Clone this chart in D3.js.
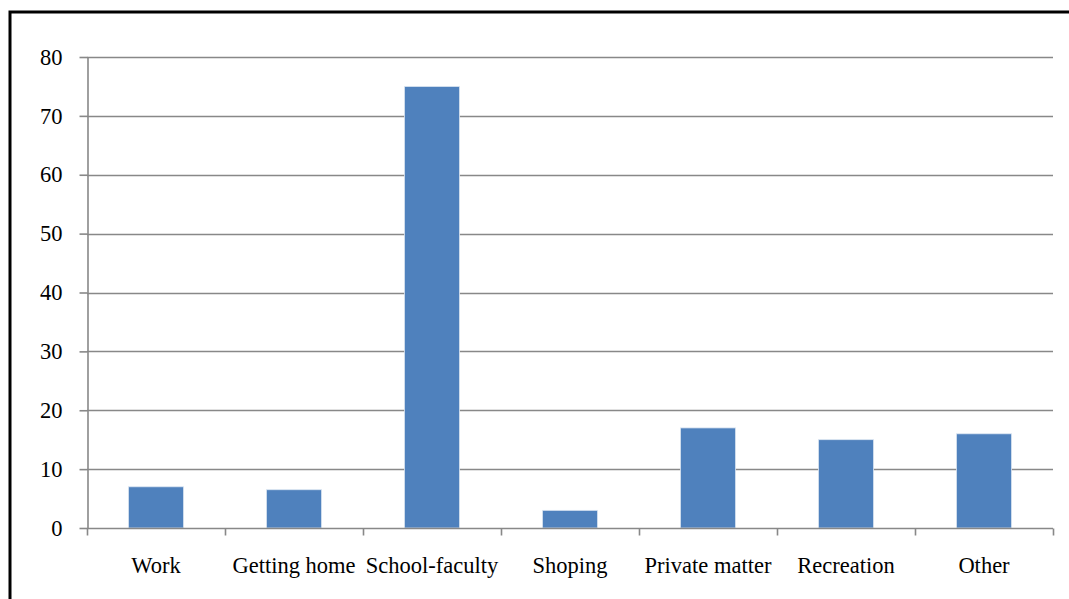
<!DOCTYPE html>
<html>
<head>
<meta charset="utf-8">
<script src="https://cdn.jsdelivr.net/npm/d3@7"></script>
<style>
  html, body { margin: 0; padding: 0; background: #fff; }
  svg { display: block; }
  text { font-family: "Liberation Serif", "Times New Roman", serif; fill: #000; }
</style>
</head>
<body>
<svg id="chart" width="1069" height="599"></svg>
<script>
// Trip purposes and their shares
const categories = ["Work", "Getting home", "School-faculty", "Shoping", "Private matter", "Recreation", "Other"];
const values = [7, 6.5, 75, 3, 17, 15, 16];
const yTicks = [0, 10, 20, 30, 40, 50, 60, 70, 80];

const W = 1069, H = 599;
const margin = { left: 87, right: 16, top: 57, bottom: 71 };
const fontSize = 22.5;
const svg = d3.select("#chart");

// Outer frame
svg.append("rect")
  .attr("x", 10).attr("y", 12)
  .attr("width", W + 20).attr("height", H + 20)
  .attr("fill", "none").attr("stroke", "#000").attr("stroke-width", 3);

const x = d3.scaleBand()
  .domain(categories)
  .range([margin.left, W - margin.right])
  .paddingInner(0.6).paddingOuter(0.3);

const xOuter = d3.scaleBand()
  .domain(categories)
  .range([margin.left, W - margin.right]);

const y = d3.scaleLinear()
  .domain([0, 80])
  .range([H - margin.bottom, margin.top]);

const gridColor = "#888";

// Horizontal gridlines
svg.append("g")
  .selectAll("line")
  .data(yTicks.filter(d => d > 0))
  .join("line")
  .attr("x1", margin.left).attr("x2", W - margin.right)
  .attr("y1", d => Math.round(y(d)) + 0.5).attr("y2", d => Math.round(y(d)) + 0.5)
  .attr("stroke", gridColor).attr("stroke-width", 1.6);

// Bars
svg.append("g")
  .selectAll("rect")
  .data(values)
  .join("rect")
  .attr("x", (d, i) => x(categories[i]))
  .attr("width", x.bandwidth())
  .attr("y", d => y(d))
  .attr("height", d => y(0) - y(d))
  .attr("fill", "#4f81bd")
  .attr("stroke", "#dce6f2").attr("stroke-width", 0.8);

// Y axis
const yAxis = svg.append("g")
  .attr("transform", `translate(${margin.left + 0.5},0)`)
  .call(d3.axisLeft(y).tickValues(yTicks).tickSize(8).tickPadding(17).tickSizeOuter(0));
yAxis.select(".domain").attr("stroke", gridColor).attr("stroke-width", 1.6);
yAxis.selectAll(".tick line").attr("stroke", gridColor).attr("stroke-width", 1.6);
yAxis.selectAll(".tick text")
  .attr("font-size", fontSize)
  .attr("font-family", "Liberation Serif, Times New Roman, serif")
  .attr("fill", "#000");

// X axis with category boundary ticks
const xAxisG = svg.append("g")
  .attr("transform", `translate(0,${Math.round(y(0)) + 0.5})`);
xAxisG.append("line")
  .attr("x1", margin.left).attr("x2", W - margin.right)
  .attr("stroke", gridColor).attr("stroke-width", 1.6);
const boundaries = categories.map(c => xOuter(c)).concat([W - margin.right]);
xAxisG.selectAll("line.tick")
  .data(boundaries)
  .join("line")
  .attr("class", "tick")
  .attr("x1", d => Math.round(d) + 0.5).attr("x2", d => Math.round(d) + 0.5)
  .attr("y1", 0).attr("y2", 7)
  .attr("stroke", gridColor).attr("stroke-width", 1.6);
xAxisG.selectAll("text")
  .data(categories)
  .join("text")
  .attr("x", d => xOuter(d) + xOuter.bandwidth() / 2)
  .attr("y", 44)
  .attr("text-anchor", "middle")
  .attr("font-size", fontSize)
  .text(d => d);
</script>
</body>
</html>
